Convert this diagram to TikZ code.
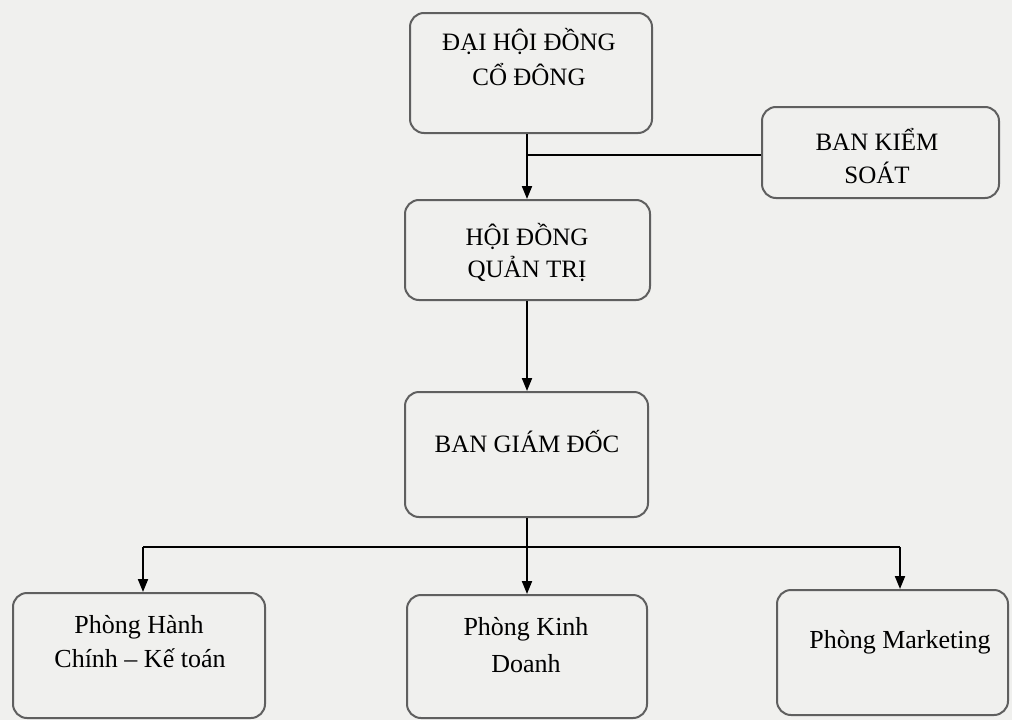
\documentclass[tikz,border=0pt]{standalone}
\usepackage{fontspec}
\setmainfont{Liberation Serif}
\usetikzlibrary{arrows.meta}
\definecolor{paper}{RGB}{240,240,238}
\definecolor{boxline}{RGB}{95,95,95}
\tikzset{
  orgbox/.style={draw=boxline, line width=2pt, rounded corners=14pt, inner sep=0pt},
  captxt/.style={anchor=base, inner sep=0pt, font=\fontsize{25}{30}\selectfont},
  lowtxt/.style={anchor=base, inner sep=0pt, font=\fontsize{26}{31}\selectfont},
  link/.style={draw=black, line width=2pt},
  arr/.style={link, -{Triangle[length=13pt,width=10pt]}}
}
\begin{document}
\begin{tikzpicture}[x=1pt,y=-1pt]
\useasboundingbox[fill=paper] (0,0) rectangle (1012,720);
% boxes
\node[orgbox, minimum width=242pt, minimum height=120pt] (dh) at (531,73) {};
\node[captxt] (dh1) at (529,50) {ĐẠI HỘI ĐỒNG};
\node[captxt] (dh2) at (529,85) {CỔ ĐÔNG};
\node[orgbox, minimum width=237pt, minimum height=91pt] (bks) at (880.5,152.5) {};
\node[captxt] (bks1) at (877,150) {BAN KIỂM};
\node[captxt] (bks2) at (877,183) {SOÁT};
\node[orgbox, minimum width=245pt, minimum height=100pt] (hd) at (527.5,250) {};
\node[captxt] (hd1) at (527,245) {HỘI ĐỒNG};
\node[captxt] (hd2) at (527,277) {QUẢN TRỊ};
\node[orgbox, minimum width=243pt, minimum height=125pt] (bgd) at (526.5,454.5) {};
\node[captxt] (bgd1) at (527,452) {BAN GIÁM ĐỐC};
\node[orgbox, minimum width=252pt, minimum height=125pt] (p1) at (139,655.5) {};
\node[lowtxt] (p1a) at (139,633) {Phòng Hành};
\node[lowtxt] (p1b) at (140,667) {Chính – Kế toán};
\node[orgbox, minimum width=240pt, minimum height=123pt] (p2) at (527,656.5) {};
\node[lowtxt] (p2a) at (526,635) {Phòng Kinh};
\node[lowtxt] (p2b) at (526,672) {Doanh};
\node[orgbox, minimum width=231pt, minimum height=125pt] (p3) at (892.5,652.5) {};
\node[lowtxt] (p3a) at (900,648) {Phòng Marketing};
% connectors
\coordinate (ax) at (527,0);
\coordinate (tap) at (527,155);
\draw[arr] (dh.south -| ax) -- (hd.north -| ax);
\draw[link] (bks.west |- tap) -- (tap);
\draw[arr] (hd.south -| ax) -- (bgd.north -| ax);
\coordinate (bus) at (527,547);
\coordinate (c1) at (143,547);
\coordinate (c3) at (900,547);
\draw[link] (bgd.south -| ax) -- (bus);
\draw[link] (c1) -- (c3);
\draw[arr] (c1) -- (p1.north -| c1);
\draw[arr] (bus) -- (p2.north -| bus);
\draw[arr] (c3) -- (p3.north -| c3);
\end{tikzpicture}
\end{document}
